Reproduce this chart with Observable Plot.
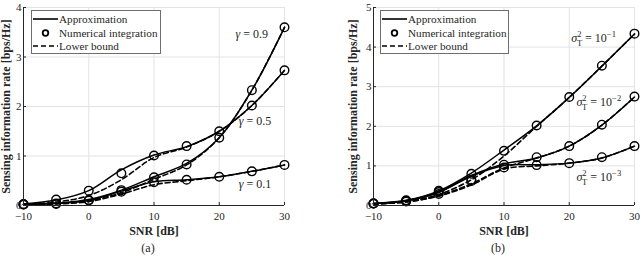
<!DOCTYPE html>
<html><head><meta charset="utf-8">
<script src="https://cdn.jsdelivr.net/npm/d3@7"></script>
<script src="https://cdn.jsdelivr.net/npm/@observablehq/plot@0.6"></script>
<style>
body{margin:0;background:#fff;}
#wrap{position:relative;width:640px;height:263px;overflow:hidden;font-family:"Liberation Serif",serif;color:#262626;}
.panel{position:absolute;top:0;}
.cap{position:absolute;top:241px;font-size:12px;width:40px;text-align:center;font-family:"Liberation Serif",serif;}
g[aria-label="x-axis label"] text, g[aria-label="y-axis label"] text{font-weight:bold;font-size:12px;fill:#262626;}
svg text{font-family:"Liberation Serif",serif;}
</style></head><body><div id="wrap"></div>
<script>
// ---------- data ----------
const snr = [-10, -5, 0, 5, 10, 15, 20, 25, 30];
const xTicks = [-10, 0, 10, 20, 30];
const yTicksA = [0, 1, 2, 3, 4];
const yTicksB = [0, 1, 2, 3, 4, 5];

// panel (a): gamma series
const gammaNames = ["γ = 0.9", "γ = 0.5", "γ = 0.1"];
const aApprox = [
  [0.02, 0.05, 0.12, 0.31, 0.58, 0.85, 1.37, 2.33, 3.6],
  [0.03, 0.11, 0.3, 0.72, 1.02, 1.19, 1.5, 2.02, 2.73],
  [0.02, 0.04, 0.1, 0.29, 0.48, 0.52, 0.58, 0.69, 0.82]
];
const aNumerical = [
  [0.02, 0.04, 0.11, 0.31, 0.57, 0.83, 1.37, 2.33, 3.6],
  [0.03, 0.12, 0.3, 0.65, 1.01, 1.2, 1.5, 2.02, 2.73],
  [0.02, 0.03, 0.1, 0.28, 0.47, 0.52, 0.58, 0.69, 0.82]
];
const aLower = [
  [0.02, 0.04, 0.1, 0.26, 0.53, 0.82, 1.37, 2.33, 3.6],
  [0.02, 0.07, 0.2, 0.52, 0.97, 1.18, 1.5, 2.02, 2.73],
  [0.02, 0.03, 0.08, 0.23, 0.42, 0.5, 0.58, 0.69, 0.82]
];
const aLabelX = [22.5, 23, 23];
const aLabelY = [3.46, 1.7, 0.44];

// panel (b): sigma_T^2 series
const sigmaNames = ["σ2T = 10−1", "σ2T = 10−2", "σ2T = 10−3"];
const bApprox = [
  [0.05, 0.13, 0.37, 0.82, 1.4, 2.01, 2.73, 3.52, 4.33],
  [0.05, 0.12, 0.34, 0.76, 1.05, 1.2, 1.5, 2.03, 2.74],
  [0.05, 0.12, 0.33, 0.74, 1.01, 1.03, 1.07, 1.2, 1.5]
];
const bNumerical = [
  [0.05, 0.13, 0.37, 0.8, 1.38, 2.02, 2.74, 3.53, 4.34],
  [0.05, 0.12, 0.34, 0.65, 1.03, 1.22, 1.5, 2.04, 2.75],
  [0.05, 0.1, 0.29, 0.62, 0.96, 1.02, 1.07, 1.22, 1.5]
];
const bLower = [
  [0.04, 0.1, 0.28, 0.65, 1.25, 2.0, 2.73, 3.52, 4.33],
  [0.04, 0.09, 0.25, 0.55, 0.95, 1.2, 1.5, 2.03, 2.74],
  [0.04, 0.09, 0.24, 0.52, 0.92, 1.0, 1.07, 1.2, 1.5]
];
const bLabelX = [20.3, 21.1, 21.1];
const bLabelY = [4.22, 2.62, 0.72];

const legendItems = ["Approximation", "Numerical integration", "Lower bound"];
const xLabel = "SNR [dB]";
const yLabel = "Sensing information rate [bps/Hz]";
const captions = ["(a)", "(b)"];

// ---------- helpers ----------
function rows(names, arr) {
  const out = [];
  arr.forEach((vals, i) => vals.forEach((v, j) => out.push({series: names[i], snr: snr[j], value: v})));
  return out;
}

function panel({names, approx, numerical, lower, yMax, yTicks, marginLeft, marginRight, labelX, labelY, yLabelOffset}) {
  const labels = names.map((n, i) => ({text: n, snr: labelX[i], value: labelY[i]}));
  return Plot.plot({
    width: 320, height: 240,
    marginLeft, marginRight, marginTop: 7, marginBottom: 35,
    style: {fontFamily: "Liberation Serif, serif", fontSize: "11px", color: "#262626", background: "transparent", overflow: "visible"},
    x: {domain: [-10, 30], label: null},
    y: {domain: [0, yMax], label: null},
    marks: [
      Plot.gridX(xTicks, {stroke: "#e3e3e3", strokeOpacity: 1}),
      Plot.gridY(yTicks, {stroke: "#e3e3e3", strokeOpacity: 1}),
      Plot.line(rows(names, lower), {x: "snr", y: "value", z: "series", stroke: "black", strokeWidth: 1.6, strokeDasharray: "5,3", curve: "catmull-rom"}),
      Plot.line(rows(names, approx), {x: "snr", y: "value", z: "series", stroke: "black", strokeWidth: 1.5, curve: "catmull-rom"}),
      Plot.dot(rows(names, numerical), {x: "snr", y: "value", r: 4.3, stroke: "black", strokeWidth: 1.4, fill: "none"}),
      Plot.ruleY([0], {stroke: "#262626"}),
      Plot.ruleX([-10], {stroke: "#262626"}),
      Plot.axisX(xTicks, {tickSize: 0, tickPadding: 7, tickFormat: "d", label: xLabel, labelArrow: "none", labelAnchor: "center", labelOffset: 29, fontSize: 11}),
      Plot.axisX(xTicks, {tickSize: 3, text: null, label: null, dy: -3, stroke: "#262626"}),
      Plot.axisY(yTicks, {tickSize: 0, tickPadding: 2, tickFormat: "d", label: yLabel, labelArrow: "none", labelAnchor: "center", labelOffset: yLabelOffset, fontSize: 11}),
      Plot.axisY(yTicks, {tickSize: 3, text: null, label: null, dx: 3, stroke: "#262626"}),
      Plot.text(labels, {x: "snr", y: "value", text: "text", textAnchor: "start", fontSize: 12, fill: "#262626"})
    ]
  });
}

function decorate(svg) {
  d3.select(svg).selectAll('g[aria-label="text"] text').each(function () {
    const t = this.textContent;
    const el = d3.select(this);
    let m;
    if ((m = t.match(/^γ = (.*)$/))) {
      el.text(null);
      el.append("tspan").attr("font-style", "italic").text("γ");
      el.append("tspan").text(" = " + m[1]);
    } else if ((m = t.match(/^σ(\d)(T) = 10(.*)$/))) {
      el.text(null);
      el.append("tspan").attr("font-style", "italic").text("σ");
      el.append("tspan").attr("font-size", 8.5).attr("dy", -5).text(m[1]);
      el.append("tspan").attr("font-size", 8.5).attr("dx", -4.5).attr("dy", 9).text(m[2]);
      el.append("tspan").attr("dy", -4).text(" = 10");
      el.append("tspan").attr("font-size", 8.5).attr("dy", -5).text(m[3]);
    }
  });
}

function legendSvg(left, width) {
  const svg = d3.create("svg").attr("width", width + 2).attr("height", 56)
    .style("left", left + "px").style("position", "absolute").style("top", "0px");
  svg.append("rect").attr("x", 0.5).attr("y", 10.5).attr("width", width).attr("height", 43)
    .attr("fill", "white").attr("stroke", "#6e6e6e").attr("stroke-width", 1);
  const ys = [19, 33, 46];
  svg.append("line").attr("x1", 2).attr("x2", 27).attr("y1", ys[0]).attr("y2", ys[0]).attr("stroke", "black").attr("stroke-width", 1.6);
  svg.append("circle").attr("cx", 14.5).attr("cy", ys[1]).attr("r", 2.8).attr("fill", "none").attr("stroke", "black").attr("stroke-width", 1.8);
  svg.append("line").attr("x1", 2).attr("x2", 27).attr("y1", ys[2]).attr("y2", ys[2]).attr("stroke", "black").attr("stroke-width", 1.6).attr("stroke-dasharray", "5,3");
  legendItems.forEach((s, i) => {
    svg.append("text").attr("x", 28).attr("y", ys[i]).attr("dy", "0.35em")
      .attr("font-size", 11.2).attr("fill", "#262626").text(s);
  });
  return svg.node();
}

// ---------- build ----------
const wrap = document.getElementById("wrap");

const pa = panel({names: gammaNames, approx: aApprox, numerical: aNumerical, lower: aLower, yMax: 4, yTicks: yTicksA,
  marginLeft: 23, marginRight: 36, labelX: aLabelX, labelY: aLabelY, yLabelOffset: 22});
pa.classList.add("panel"); pa.style.left = "0px";
decorate(pa);
wrap.appendChild(pa);

const pb = panel({names: sigmaNames, approx: bApprox, numerical: bNumerical, lower: bLower, yMax: 5, yTicks: yTicksB,
  marginLeft: 53, marginRight: 6, labelX: bLabelX, labelY: bLabelY, yLabelOffset: 25});
pb.classList.add("panel"); pb.style.left = "320px";
decorate(pb);
wrap.appendChild(pb);

wrap.appendChild(legendSvg(31, 129));
wrap.appendChild(legendSvg(380, 128));

[[148, captions[0]], [498, captions[1]]].forEach(([cx, s]) => {
  const d = document.createElement("div");
  d.className = "cap"; d.style.left = (cx - 20) + "px"; d.textContent = s;
  wrap.appendChild(d);
});
</script></body></html>
